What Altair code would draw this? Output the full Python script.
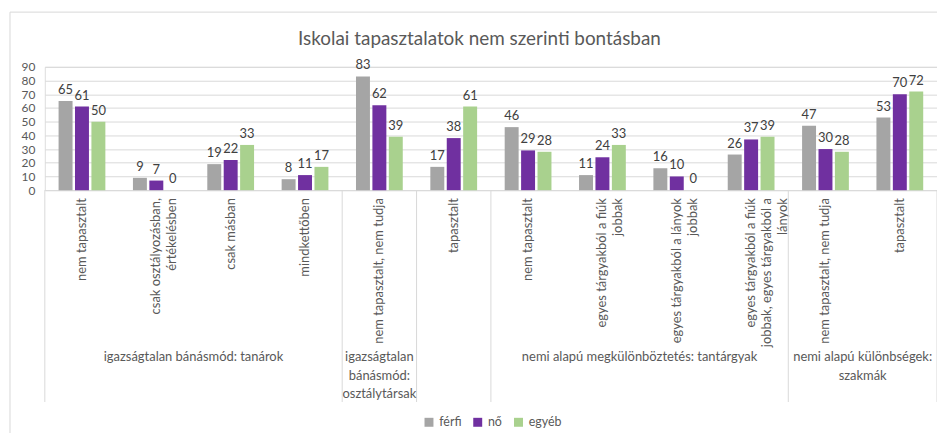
import altair as alt
import pandas as pd

title_text = "Iskolai tapasztalatok nem szerinti bontásban"
categories = [
    "nem tapasztalt",
    "csak osztályozásban,\nértékelésben",
    "csak másban",
    "mindkettőben",
    "nem tapasztalt, nem tudja",
    "tapasztalt",
    "nem tapasztalt",
    "egyes tárgyakból a fiúk\njobbak",
    "egyes tárgyakból a lányok\njobbak",
    "egyes tárgyakból a fiúk\njobbak, egyes tárgyakból a\nlányok",
    "nem tapasztalt, nem tudja",
    "tapasztalt",
]
ferfi = [65, 9, 19, 8, 83, 17, 46, 11, 16, 26, 47, 53]
no = [61, 7, 22, 11, 62, 38, 29, 24, 10, 37, 30, 70]
egyeb = [50, 0, 33, 17, 39, 61, 28, 33, 0, 39, 28, 72]
series = ["férfi", "nő", "egyéb"]
colors = ["#A5A5A5", "#7030A0", "#A9D18E"]
groups = [
    "igazságtalan bánásmód: tanárok",
    "igazságtalan\nbánásmód:\nosztálytársak",
    "",
    "nemi alapú megkülönböztetés: tantárgyak",
    "nemi alapú különbségek:\nszakmák",
]
group_sizes = [4, 1, 1, 4, 2]
y_ticks = list(range(0, 91, 10))

FONT = "Lato"
W, H = 897, 124

cids = [f"c{i:02d}" for i in range(len(categories))]
rows = []
for i, cid in enumerate(cids):
    for s, vals in zip(series, [ferfi, no, egyeb]):
        rows.append({"cid": cid, "series": s, "value": vals[i]})
df = pd.DataFrame(rows)
df_cat = pd.DataFrame({"cid": cids, "label": categories})

bounds = [0]
for g in group_sizes:
    bounds.append(bounds[-1] + g)
df_grp = pd.DataFrame({
    "label": groups,
    "mid": [(bounds[i] + bounds[i + 1]) / 2 for i in range(len(groups))],
})
df_bnd = pd.DataFrame({"b": bounds})

xband = alt.X("cid:N", sort=cids, axis=None,
              scale=alt.Scale(paddingInner=0, paddingOuter=0))
xoff = alt.XOffset("series:N", sort=series,
                   scale=alt.Scale(paddingInner=0.15, paddingOuter=0.84))
yaxis = alt.Axis(values=y_ticks, tickCount=10, title=None, domain=False, ticks=False,
                 grid=True, gridColor="#D9D9D9", labelColor="#595959",
                 labelFontSize=12, labelPadding=10, labelFont=FONT,
                 labelOverlap=False, labelBound=False, labelFlush=False)
yenc = alt.Y("value:Q", scale=alt.Scale(domain=[0, 90], nice=False), axis=yaxis)

base = alt.Chart(df)
bars = base.mark_bar().encode(
    x=xband, xOffset=xoff, y=yenc,
    color=alt.Color("series:N", sort=series,
                    scale=alt.Scale(domain=series, range=colors),
                    legend=alt.Legend(title=None, orient="none", direction="horizontal",
                                      legendX=380, legendY=351, symbolType="square",
                                      symbolSize=81, symbolStrokeWidth=0,
                                      labelFontSize=12.5, labelColor="#595959",
                                      labelFont=FONT, columnPadding=10)),
)
vals = base.mark_text(baseline="alphabetic", dy=-7, fontSize=13, color="#404040",
                      font=FONT).encode(
    x=xband, xOffset=xoff, y=yenc, text="value:Q")

catlab = alt.Chart(df_cat).mark_text(
    angle=270, align="right", baseline="middle", lineBreak="\n", lineHeight=16,
    fontSize=13, color="#595959", font=FONT).encode(
    x=xband, y=alt.value(132), text="label:N")

xq = alt.Scale(domain=[0, sum(group_sizes)], nice=False, zero=False)
seps = alt.Chart(df_bnd).mark_rule(color="#D9D9D9", strokeWidth=1).encode(
    x=alt.X("b:Q", scale=xq, axis=None), y=alt.value(H), y2=alt.value(337))
grplab = alt.Chart(df_grp).mark_text(
    align="center", baseline="alphabetic", lineBreak="\n", lineHeight=18.5,
    fontSize=13, color="#595959", font=FONT).encode(
    x=alt.X("mid:Q", scale=xq, axis=None), y=alt.value(296), text="label:N")

one = pd.DataFrame({"t": [title_text]})
border = alt.Chart(one).mark_rect(fill="transparent", stroke="#D9D9D9", strokeWidth=1).encode(
    x=alt.value(-35), x2=alt.value(910), y=alt.value(-55), y2=alt.value(400))
title = alt.Chart(one).mark_text(align="center", baseline="alphabetic", fontSize=19,
                                 color="#595959", font=FONT).encode(
    x=alt.value(437), y=alt.value(-22), text="t:N")

chart = alt.layer(
    border,
    alt.layer(bars, vals, catlab),
    alt.layer(seps, grplab),
    title,
).resolve_scale(x="independent").properties(
    width=W, height=H,
    autosize=alt.AutoSizeParams(type="none"),
    padding={"left": 37, "top": 58, "right": 0, "bottom": 243},
).configure_view(stroke=None).configure(font=FONT)

chart.save("out.html", embed_options={"renderer": "svg", "actions": False})
